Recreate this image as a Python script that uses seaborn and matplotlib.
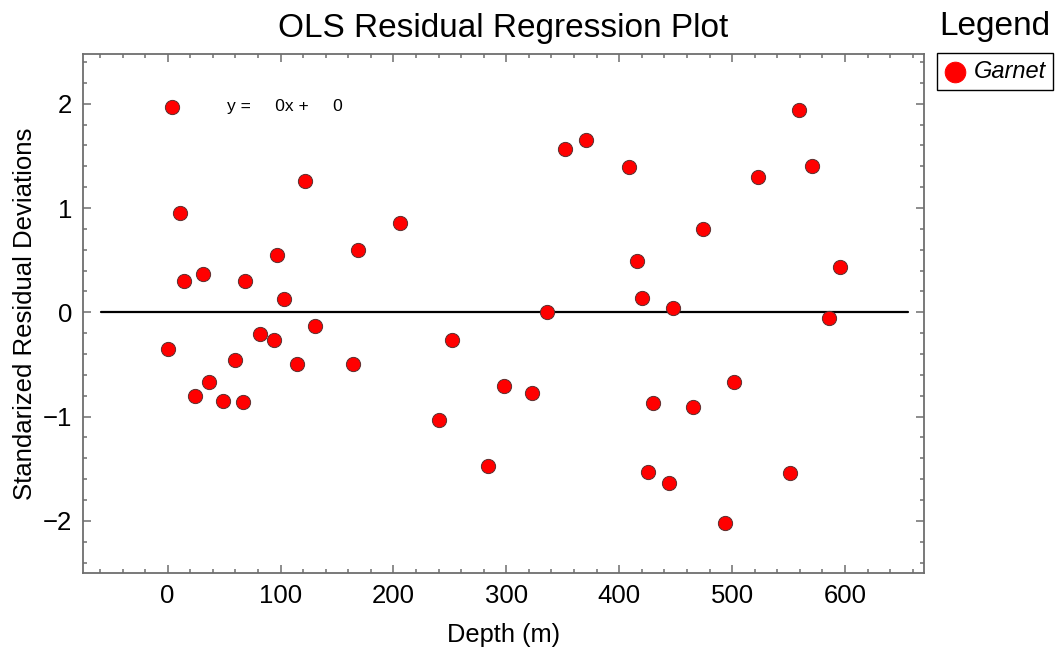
import numpy as np
import pandas as pd
import matplotlib
matplotlib.use("Agg")
import matplotlib.pyplot as plt
import seaborn as sns
from matplotlib.ticker import MultipleLocator

# ---- data ----
depth = [4, 11, 14.9, 0.4, 31, 24, 36.7, 49, 67, 68.6, 60, 82, 94.5, 97, 103,
         115, 122, 130.5, 164, 169, 206, 240, 252, 283.5, 297.5, 322.6, 336,
         352, 370.4, 408.6, 416, 420, 425.8, 429.6, 443.8, 447.5, 465, 474.5,
         494, 502, 522.6, 551, 559, 571, 586, 596]
residual = [1.97, 0.95, 0.30, -0.35, 0.37, -0.80, -0.67, -0.85, -0.86, 0.30,
            -0.46, -0.21, -0.27, 0.55, 0.125, -0.50, 1.256, -0.13, -0.50, 0.60,
            0.855, -1.03, -0.27, -1.47, -0.71, -0.77, 0.00, 1.57, 1.65, 1.39,
            0.49, 0.14, -1.53, -0.87, -1.64, 0.04, -0.91, 0.80, -2.02, -0.67,
            1.30, -1.54, 1.94, 1.40, -0.05, 0.43]
series_name = "Garnet"
fit_slope = 0
fit_intercept = 0
fit_range = [-59, 656]

df = pd.DataFrame({"Depth": depth, "Residual": residual})

sns.set_theme(style="white")
plt.rcParams["font.family"] = ["Liberation Sans", "DejaVu Sans"]
plt.rcParams["text.color"] = "black"
plt.rcParams["axes.labelcolor"] = "black"

fig = plt.figure(figsize=(10.55, 6.49), dpi=100)
ax = fig.add_axes([83 / 1055, 1 - 573 / 649, (924 - 83) / 1055, (573 - 54) / 649])

fit_x = np.array(fit_range, dtype=float)
ax.plot(fit_x, fit_slope * fit_x + fit_intercept, color="black", lw=1.6, zorder=1)

sns.scatterplot(data=df, x="Depth", y="Residual", color="#ff0000", s=105,
                edgecolor="#5a3030", linewidth=0.7, label=series_name,
                ax=ax, zorder=3)

ax.set_xlim(-75, 670)
ax.set_ylim(-2.5, 2.477)
ax.xaxis.set_major_locator(MultipleLocator(100))
ax.xaxis.set_minor_locator(MultipleLocator(20))
ax.yaxis.set_minor_locator(MultipleLocator(0.2))
ax.set_yticks([-2, -1, 0, 1, 2])
ax.set_yticklabels(["\u22122", "\u22121", "0", "1", "2"])

gray = "#6e6e6e"
for sp in ax.spines.values():
    sp.set_color(gray)
    sp.set_linewidth(1.3)
ax.tick_params(which="both", direction="in", top=True, right=True,
               bottom=True, left=True, color=gray, width=1.1,
               labelsize=18.5, labelcolor="black")
ax.tick_params(which="major", length=5.5, pad=8)
ax.tick_params(which="minor", length=3)

ax.set_xlabel("Depth (m)", fontsize=18.3, labelpad=11)
ax.set_ylabel("Standarized Residual Deviations", fontsize=18.5, labelpad=4)
ax.set_title("OLS Residual Regression Plot", fontsize=24, pad=12)

ax.text(53, 1.97, "y =     0x +     0", fontsize=12.5, va="center", ha="left")

leg = ax.legend(loc="upper left", bbox_to_anchor=(937 / 1055, 1 - 53 / 649),
                bbox_transform=fig.transFigure, borderaxespad=0,
                fancybox=False, framealpha=1, edgecolor="black",
                prop={"style": "italic", "size": 17}, markerscale=1.45,
                handletextpad=0.35, borderpad=0.3, handlelength=0.9)
leg.get_frame().set_linewidth(1.0)
for h in leg.legend_handles:
    h.set_edgecolor("#ff0000")

fig.text(995 / 1055, 1 - 27 / 649, "Legend", fontsize=24, ha="center", va="center")

fig.savefig("out.png", dpi=100)
